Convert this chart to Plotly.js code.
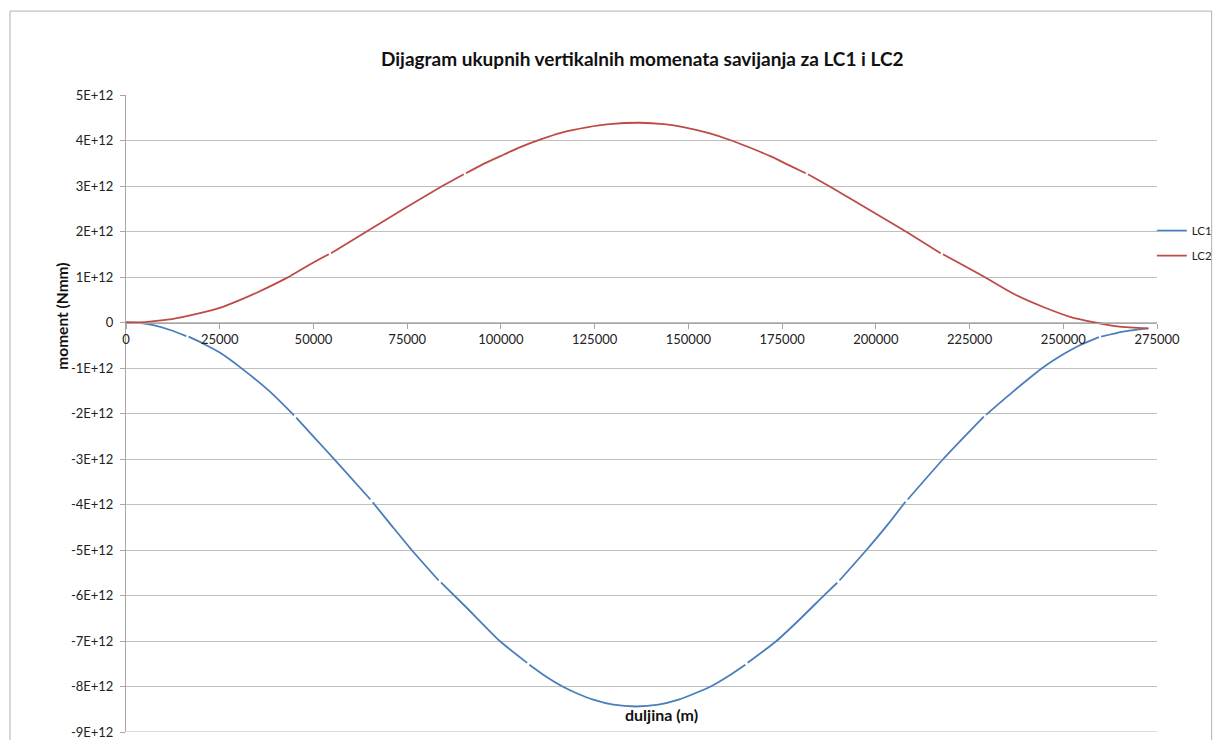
<!DOCTYPE html>
<html>
<head>
<meta charset="utf-8">
<script src="https://cdn.plot.ly/plotly-3.0.1.min.js"></script>
<style>html,body{margin:0;padding:0;background:#fff;}#chart{width:1216px;height:740px;}</style>
</head>
<body>
<div id="chart"></div>
<script>
// Values in units of 1E+12 Nmm; null marks the small breaks visible in the lines
const lc1X = [0, 3500, 7300, 12000, 16100, 16400, 16700, 20500, 25000, 30400, 38400, 44800, 45100, 45400, 50500, 55700, 65200, 65500, 65800, 71000, 76200, 83400, 83700, 84000, 91000, 99700, 107000, 107300, 107600, 112000, 116200, 120500, 124600, 130000, 136000, 142000, 147400, 151500, 156200, 160500, 165200, 165500, 165800, 173500, 180000, 186400, 189700, 190000, 190300, 197500, 203000, 207900, 208200, 208500, 218000, 228800, 229100, 229400, 236600, 244600, 250000, 254400, 259500, 259800, 260100, 266000, 272700];
const lc1Y = [0, -0.01, -0.06, -0.17, -0.30, null, -0.31, -0.46, -0.66, -0.98, -1.52, -2.04, null, -2.09, -2.55, -3.02, -3.89, null, -3.95, -4.48, -5.0, -5.67, null, -5.71, -6.28, -7.0, -7.48, null, -7.52, -7.78, -7.99, -8.16, -8.29, -8.40, -8.44, -8.40, -8.29, -8.16, -7.99, -7.78, -7.52, null, -7.48, -7.0, -6.5, -5.98, -5.72, null, -5.67, -5.0, -4.46, -3.94, null, -3.89, -3.0, -2.07, null, -2.03, -1.52, -0.99, -0.70, -0.50, -0.32, null, -0.31, -0.20, -0.13];

const lc2X = [0, 5000, 10000, 15000, 20000, 25000, 30000, 35000, 42900, 50000, 54100, 54400, 54700, 64200, 74900, 84600, 90100, 90400, 90700, 95000, 99700, 105000, 110400, 116000, 122900, 129000, 137000, 143500, 149000, 155500, 161500, 166500, 172000, 176500, 181300, 181600, 181900, 187500, 197000, 208000, 217300, 217600, 217900, 229000, 237000, 245000, 252000, 258000, 265000, 272700];
const lc2Y = [0, 0.01, 0.05, 0.12, 0.21, 0.32, 0.48, 0.66, 0.98, 1.32, 1.50, null, 1.52, 2.0, 2.54, 3.01, 3.26, null, 3.28, 3.47, 3.65, 3.85, 4.02, 4.17, 4.29, 4.36, 4.39, 4.36, 4.29, 4.16, 4.0, 3.84, 3.65, 3.47, 3.28, null, 3.26, 3.0, 2.54, 2.0, 1.52, null, 1.50, 1.0, 0.62, 0.33, 0.12, 0.01, -0.09, -0.13];

const yTickVals = [5, 4, 3, 2, 1, 0, -1, -2, -3, -4, -5, -6, -7, -8, -9];
const yTickText = ["5E+12", "4E+12", "3E+12", "2E+12", "1E+12", "0", "-1E+12", "-2E+12", "-3E+12", "-4E+12", "-5E+12", "-6E+12", "-7E+12", "-8E+12", "-9E+12"];
const xTickVals = [0, 25000, 50000, 75000, 100000, 125000, 150000, 175000, 200000, 225000, 250000, 275000];

const SCALE = 1e12;
const yMin = -9 * SCALE, yMax = 5 * SCALE;
const FONT = "Lato, 'Open Sans', sans-serif";
const GRID = '#bfbfbf';
const scaled = arr => arr.map(v => v === null ? null : v * SCALE);

const traces = [
  {x: lc1X, y: scaled(lc1Y), type: 'scatter', mode: 'lines', name: 'LC1', legendgroup: 'a',
   line: {color: '#4a7ebb', width: 1.8, shape: 'spline', smoothing: 0.6}, connectgaps: false},
  {x: lc2X, y: scaled(lc2Y), type: 'scatter', mode: 'lines', name: 'LC2', legendgroup: 'b',
   line: {color: '#be4b48', width: 1.8, shape: 'spline', smoothing: 0.6}, connectgaps: false}
];

const layout = {
  width: 1216, height: 740,
  margin: {l: 126, r: 59, t: 95, b: 8, autoexpand: false},
  paper_bgcolor: '#fff', plot_bgcolor: '#fff',
  font: {family: FONT, size: 12, color: '#222'},
  showlegend: true,
  legend: {x: 0.995, y: 0.81, xanchor: 'left', yanchor: 'top', font: {size: 11.5, color: '#222'},
           tracegroupgap: 6, bgcolor: 'rgba(0,0,0,0)', itemwidth: 30},
  xaxis: {
    range: [0, 275000], tickvals: xTickVals, ticktext: xTickVals.map(String),
    showgrid: false, zeroline: false, showline: true, linecolor: '#a6a6a6', linewidth: 1,
    ticks: 'outside', ticklen: 5, tickcolor: '#a6a6a6',
    anchor: 'free', position: (0 - yMin) / (yMax - yMin),
    tickfont: {size: 13, color: '#222'}
  },
  yaxis: {
    range: [yMin, yMax], tickvals: yTickVals.map(v => v * SCALE), ticktext: yTickText,
    showgrid: true, gridcolor: GRID, gridwidth: 1, zeroline: false,
    showline: true, linecolor: '#a6a6a6', linewidth: 1,
    ticks: 'outside', ticklen: 5, tickcolor: '#a6a6a6', ticklabelstandoff: 4,
    ticklabeloverflow: 'allow',
    tickfont: {size: 13, color: '#222'}
  },
  annotations: [
    {text: '<b>Dijagram ukupnih vertikalnih momenata savijanja za LC1 i LC2</b>', xref: 'paper', yref: 'paper',
     x: 0.5, y: 1.058, xanchor: 'center', yanchor: 'middle', showarrow: false, font: {size: 19, color: '#111'}},
    {text: '<b>duljina (m)</b>', xref: 'paper', yref: 'paper', x: 0.519, y: 0.027,
     xanchor: 'center', yanchor: 'middle', showarrow: false, font: {size: 16, color: '#111'}},
    {text: '<b>moment (Nmm)</b>', xref: 'paper', yref: 'paper', x: -0.062, y: 0.652, textangle: -90,
     xanchor: 'center', yanchor: 'middle', showarrow: false, font: {size: 15.5, color: '#111'}}
  ],
  shapes: [
    {type: 'rect', xref: 'paper', yref: 'paper', x0: -0.1125, x1: 1.053, y0: -0.05, y1: 1.1317,
     line: {color: '#b0b0b0', width: 1}, layer: 'below'},
    {type: 'line', xref: 'paper', yref: 'y', x0: 0, x1: 1, y0: yMin, y1: yMin,
     line: {color: GRID, width: 1}, layer: 'below'}
  ]
};

Plotly.newPlot('chart', traces, layout, {displayModeBar: false, staticPlot: true});
</script>
</body>
</html>
